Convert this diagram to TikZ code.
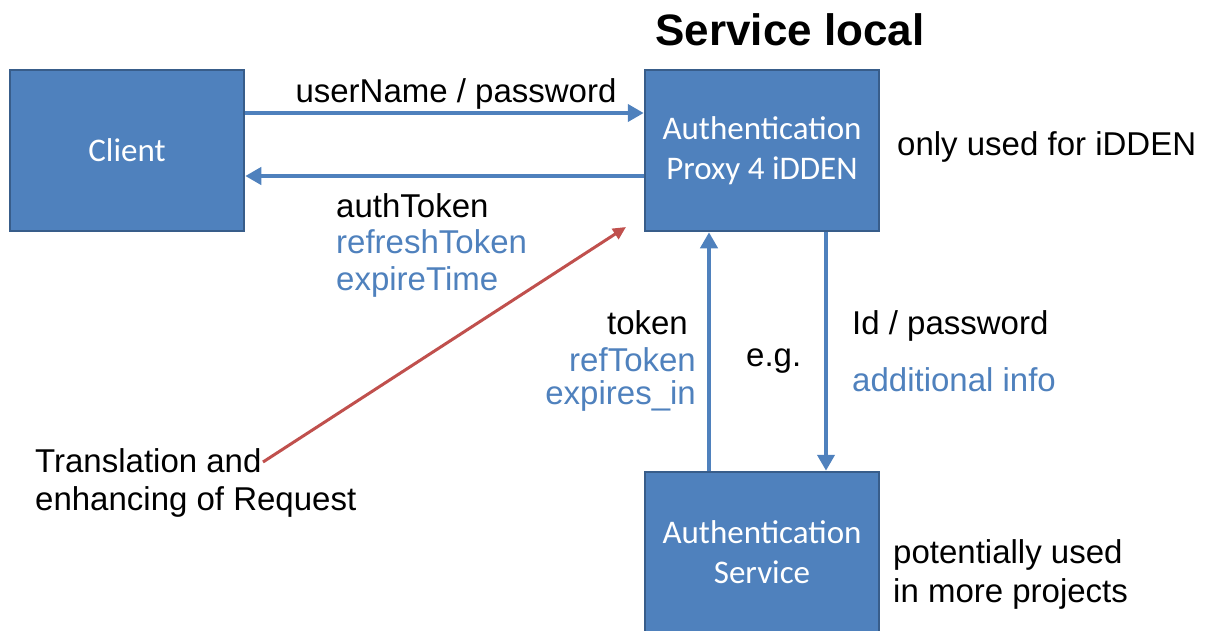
\documentclass[tikz,border=0pt]{standalone}
\usepackage{fontspec}
\setmainfont{Liberation Sans}
\newfontfamily\boxfont{Carlito}
\usetikzlibrary{arrows.meta}
\definecolor{accentblue}{HTML}{4F81BD}
\definecolor{boxedge}{HTML}{385D8A}
\definecolor{accentred}{HTML}{C0504D}
\begin{document}
\begin{tikzpicture}[x=1pt,y=-1pt,
  procbox/.style={draw=boxedge, line width=2.5pt, fill=accentblue,
    minimum width=234pt, minimum height=161pt, inner sep=0pt, text=white,
    font=\boxfont\fontsize{33}{40}\selectfont, align=center},
  lbl/.style={font=\fontsize{33}{37}\selectfont, inner sep=0pt},
  bluelbl/.style={lbl, text=accentblue},
  flow/.style={accentblue, line width=4.5pt, -{Triangle[length=16pt,width=17pt]}},
  annot/.style={accentred, line width=3pt, -{Triangle[length=13pt,width=12pt]}}]
\useasboundingbox (0,0) rectangle (1206,630);

% boxes
\node[procbox] (client)  at (127,150.5) {Client};
\node[procbox] (proxy)   at (762,150.5) {Authentication\\Proxy 4 iDDEN};
\node[procbox] (service) at (762,552.5) {Authentication\\Service};

% title
\node[inner sep=0pt, anchor=base, font=\bfseries\fontsize{44}{48}\selectfont] (title) at (790,45) {Service local};

% connectors between the boxes
\draw[flow] ([yshift=37.5pt]client.east) -- ([yshift=37.5pt]proxy.west);
\draw[flow] ([yshift=-25.5pt]proxy.west) -- ([yshift=-25.5pt]client.east);
\draw[flow] ([xshift=-53pt]service.north) -- ([xshift=-53pt]proxy.south);
\draw[flow] ([xshift=64pt]proxy.south) -- ([xshift=64pt]service.north);

% labels on the client side
\node[lbl, anchor=base] (cred) at (456,102) {userName / password};
\node[lbl, anchor=base west] (auth1) at (336,217) {authToken};
\node[bluelbl, anchor=base west] (auth2) at (336,253) {refreshToken};
\node[bluelbl, anchor=base west] (auth3) at (336,290) {expireTime};

% labels on the service side
\node[lbl, anchor=base east] (tok1) at (688,334.5) {token};
\node[bluelbl, anchor=base east] (tok2) at (696,371) {refToken};
\node[bluelbl, anchor=base east] (tok3) at (696,404) {expires\_in};
\node[lbl, anchor=base west] (eg) at (746,366) {e.g.};
\node[lbl, anchor=base west] (idpw) at (852,334.5) {Id / password};
\node[bluelbl, anchor=base west] (addinfo) at (852,391.5) {additional info};

% side notes
\node[lbl, anchor=base west] (only) at (897,155) {only used for iDDEN};
\node[lbl, anchor=base west] (pot1) at (893,563) {potentially used};
\node[lbl, anchor=base west] (pot2) at (893,602) {in more projects};
\node[lbl, anchor=base west] (tr1) at (35,472) {Translation and};
\node[lbl, anchor=base west] (tr2) at (35,510) {enhancing of Request};

% pointer from the translation note to the proxy
\coordinate (noteStart) at (263,462);
\coordinate (noteEnd) at (626,227);
\draw[annot] (noteStart) -- (noteEnd);
\end{tikzpicture}
\end{document}
